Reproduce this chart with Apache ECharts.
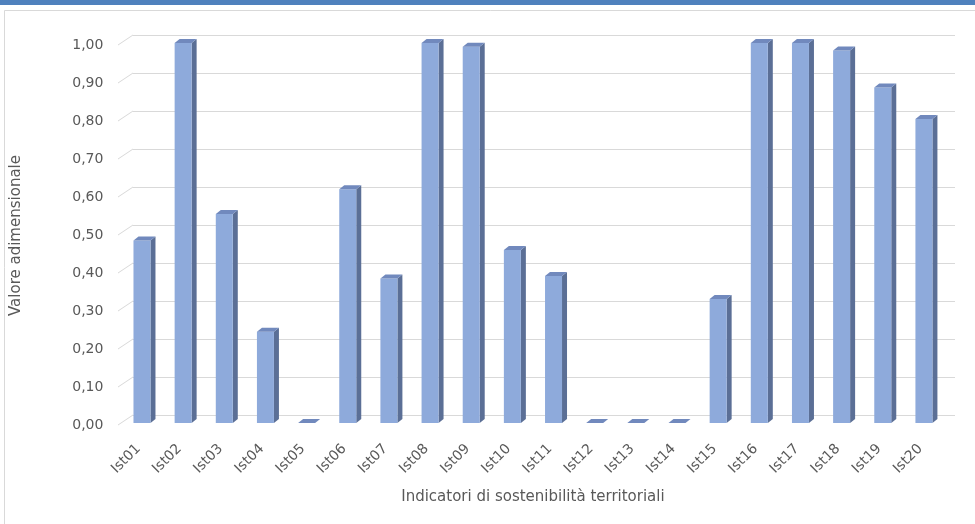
<!DOCTYPE html>
<html>
<head>
<meta charset="utf-8">
<script src="https://cdn.jsdelivr.net/npm/echarts@6/dist/echarts.min.js"></script>
<style>
  html, body { margin: 0; padding: 0; background: #ffffff; }
  #chart { width: 975px; height: 524px; }
</style>
</head>
<body>
<div id="chart"></div>
<script>
// Indicator codes along the horizontal axis
const categories = ['Ist01', 'Ist02', 'Ist03', 'Ist04', 'Ist05', 'Ist06', 'Ist07', 'Ist08', 'Ist09', 'Ist10',
                    'Ist11', 'Ist12', 'Ist13', 'Ist14', 'Ist15', 'Ist16', 'Ist17', 'Ist18', 'Ist19', 'Ist20'];
// Dimensionless value of each indicator
const values = [0.48, 1.00, 0.55, 0.24, 0.00, 0.615, 0.38, 1.00, 0.99, 0.455,
                0.387, 0.00, 0.00, 0.00, 0.326, 1.00, 1.00, 0.98, 0.883, 0.80];
// Gridline levels on the back wall
const gridLevels = [0, 0.1, 0.2, 0.3, 0.4, 0.5, 0.6, 0.7, 0.8, 0.9, 1.0];

const FONT = 'DejaVu Sans';
const TEXT = '#595959';
const GRID = '#d9d9d9';
const FRONT = '#8eaadb';
const SIDE = '#5b6f96';
const TOP = '#7189bd';

const chart = echarts.init(document.getElementById('chart'), null, { renderer: 'canvas' });

function fmt(v) { return v.toFixed(2).replace('.', ','); }

// Pseudo-3D column: front face, right side face and top face
function renderColumn(params, api) {
  const i = api.value(0);
  const v = api.value(1);
  const base = api.coord([i, 0]);
  const top = api.coord([i, v]);
  const bw = api.size([1, 0])[0] * 0.413;
  const x0 = base[0] - bw / 2, x1 = base[0] + bw / 2;
  const dx = 5, dy = 4;
  const yt = top[1], yb = base[1];
  return {
    type: 'group',
    children: [
      { type: 'polygon', shape: { points: [[x1, yt], [x1 + dx, yt - dy], [x1 + dx, yb - dy], [x1, yb]] },
        style: { fill: SIDE } },
      { type: 'rect', shape: { x: x0, y: yt, width: bw, height: yb - yt },
        style: { fill: FRONT } },
      { type: 'polygon', shape: { points: [[x0, yt], [x1, yt], [x1 + dx, yt - dy], [x0 + dx, yt - dy]] },
        style: { fill: TOP } }
    ]
  };
}

// Short floor/wall returns connecting the axis to the back-wall gridlines
function renderReturn(params, api) {
  const p = api.coord([0, api.value(0)]);
  return {
    type: 'line',
    shape: { x1: p[0] - 15, y1: p[1] + 10, x2: p[0], y2: p[1] },
    style: { stroke: GRID, lineWidth: 1 }
  };
}

const option = {
  animation: false,
  backgroundColor: '#ffffff',
  graphic: [
    { type: 'rect', shape: { x: 0, y: 0, width: 975, height: 5 }, style: { fill: '#4f81bd' }, z: 0 },
    { type: 'rect', shape: { x: 4.5, y: 10.5, width: 990, height: 540 },
      style: { fill: 'none', stroke: '#d9d9d9', lineWidth: 1 }, z: 0 }
  ],
  grid: [
    // back wall
    { left: 133, right: 20, top: 35, bottom: 109 },
    // front plane of the columns
    { left: 121.4, right: 30.5, top: 43, bottom: 101 },
    // front edge of the floor, where the value scale is read
    { left: 121.4, right: 30.5, top: 45.5, bottom: 98.5 }
  ],
  xAxis: [
    { gridIndex: 0, type: 'value', min: 0, max: 1, show: false },
    {
      gridIndex: 1, type: 'category', data: categories, boundaryGap: true,
      axisLine: { show: false }, axisTick: { show: false },
      axisLabel: { rotate: 45, margin: 20, padding: [0, 5, 0, 0], color: TEXT, fontFamily: FONT, fontSize: 14, interval: 0 },
      name: 'Indicatori di sostenibilità territoriali', nameLocation: 'middle', nameGap: 67,
      nameTextStyle: { color: TEXT, fontFamily: FONT, fontSize: 15 }
    },
    { gridIndex: 2, type: 'value', min: 0, max: 1, show: false }
  ],
  yAxis: [
    {
      gridIndex: 0, type: 'value', min: 0, max: 1, interval: 0.1,
      axisLine: { show: false }, axisTick: { show: false }, axisLabel: { show: false },
      splitLine: { show: true, lineStyle: { color: GRID, width: 1 } }
    },
    {
      gridIndex: 1, type: 'value', min: 0, max: 1, interval: 0.1,
      axisLine: { show: false }, axisTick: { show: false },
      splitLine: { show: false }, axisLabel: { show: false }
    },
    {
      gridIndex: 2, type: 'value', min: 0, max: 1, interval: 0.1,
      axisLine: { show: false }, axisTick: { show: false },
      splitLine: { show: false },
      axisLabel: { margin: 18, color: TEXT, fontFamily: FONT, fontSize: 14, formatter: fmt },
      name: 'Valore adimensionale', nameLocation: 'middle', nameGap: 98, nameRotate: 90,
      nameTextStyle: { color: TEXT, fontFamily: FONT, fontSize: 15 }
    }
  ],
  series: [
    {
      type: 'custom', xAxisIndex: 0, yAxisIndex: 0, renderItem: renderReturn,
      data: gridLevels.map(v => [v]), silent: true, z: 1
    },
    {
      type: 'custom', xAxisIndex: 1, yAxisIndex: 1, renderItem: renderColumn,
      data: values.map((v, i) => [i, v]), z: 2
    }
  ]
};

chart.setOption(option);
</script>
</body>
</html>
